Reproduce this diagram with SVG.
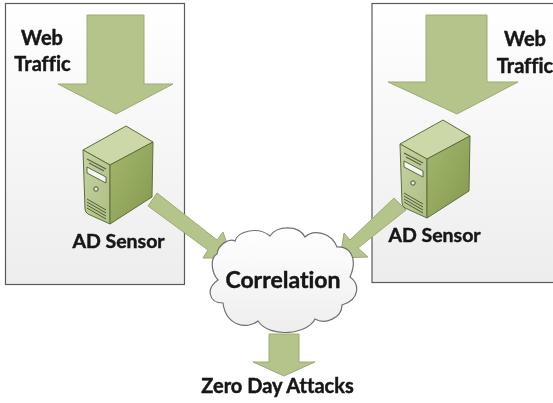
<svg xmlns="http://www.w3.org/2000/svg" xmlns:xlink="http://www.w3.org/1999/xlink" width="553" height="403" viewBox="0 0 553 403">
<style>
.box{fill:url(#boxG);stroke:#5a5a5a;stroke-width:1.2}
.arrow{fill:#b5c48a;stroke:#9cab72;stroke-width:1}
.label{font-family:"Lato","Carlito","Open Sans",sans-serif;font-weight:700;fill:#161616;stroke:#161616;stroke-width:.45;text-anchor:middle;font-variant-ligatures:none}
</style>
<defs>
<linearGradient id="boxG" x1="0" y1="0" x2="0" y2="1"><stop offset="0" stop-color="#ffffff"/><stop offset="1" stop-color="#ededed"/></linearGradient>
<linearGradient id="cloudG" x1="0" y1="0" x2="0" y2="1"><stop offset="0" stop-color="#ffffff"/><stop offset="1" stop-color="#eeeeee"/></linearGradient>
<linearGradient id="frontG" x1="0" y1="0" x2="1" y2="1"><stop offset="0" stop-color="#c6d3a0"/><stop offset="1" stop-color="#adbe84"/></linearGradient>
<linearGradient id="sideG" x1="0" y1="0" x2="1" y2="1"><stop offset="0" stop-color="#a4b76e"/><stop offset="1" stop-color="#84994f"/></linearGradient>
<filter id="soft" x="-5%" y="-5%" width="110%" height="110%"><feGaussianBlur stdDeviation="0.4"/></filter>
<g id="server">
<path d="M126 126L153 142L110 165L83 150Z" fill="#cdd8a9" stroke="#5f6f3d"/>
<path d="M83 150L110 165V224L88 214Q85 212 85 209Z" fill="url(#frontG)" stroke="#5f6f3d"/>
<path d="M110 165L153 142L152 197L110 224Z" fill="url(#sideG)" stroke="#5f6f3d"/>
<path d="M87 159L106 169M89 163L104 171" stroke="#59654a" stroke-width="1.4" fill="none"/>
<path d="M87 167L106 177V183L87 173Z" fill="#f5f6ee" stroke="#3f4a2c" stroke-width=".8"/>
<circle cx="96" cy="189" r="2.2" fill="#e8ecd8" stroke="#46512f"/>
<path d="M87 199L106 210M87 202L106 213M87 205L106 216M87 208L106 219" stroke="#46512f" stroke-width=".9" fill="none"/>
</g>
</defs>
<g filter="url(#soft)">
<g id="left-box"><rect class="box" x="5.5" y="3.5" width="179" height="281"/></g>
<g id="right-box"><rect class="box" x="372" y="3.5" width="190" height="279"/></g>
<g id="connectors">
<path class="arrow" d="M87 15H144V84H173L116 114L58 84H87Z"/>
<path class="arrow" d="M426 15H487V82H518L457 114L388 82H426Z"/>
<path class="arrow" d="M157 193L148 206L208 250L203 258L232 258L223 232L217 240Z"/>
<path class="arrow" d="M394 198L406 210L358 248L368 257L340 258L344 233L350 240Z"/>
<path class="arrow" d="M269 334H299V362H315L284 376L253 362H269Z"/>
</g>
<g id="left-sensor"><use xlink:href="#server" href="#server"/><text class="label" x="118.500" y="248" font-size="19.5">AD Sensor</text></g>
<g id="right-sensor"><use xlink:href="#server" href="#server" transform="translate(317,-6)"/><text class="label" x="434.500" y="242" font-size="19.500">AD Sensor</text></g>
<g id="web-left"><text class="label" x="42" y="45" font-size="20">Web</text><text class="label" x="42.500" y="71" font-size="20">Traffic</text></g>
<g id="web-right"><text class="label" x="525" y="46" font-size="20">Web</text><text class="label" x="525" y="73" font-size="20">Traffic</text></g>
<g id="correlation">
<path d="M218 280C211 272 210 258 217 254C218 244 230 238 235 241C238 231 258 226 270 236C276 226 298 224 305 237C313 229 331 232 337 247C348 246 359 256 350 277C360 283 360 300 342 305C342 318 325 325 315 319C308 334 270 339 258 321C247 330 226 326 223 303C208 303 206 288 218 280Z" fill="url(#cloudG)" stroke="#707070" stroke-width="1.2"/>
<text class="label" x="283" y="288" font-size="23">Correlation</text>
</g>
<g id="zero-day"><text class="label" x="277.500" y="393" font-size="20">Zero Day Attacks</text></g>
</g>
</svg>
